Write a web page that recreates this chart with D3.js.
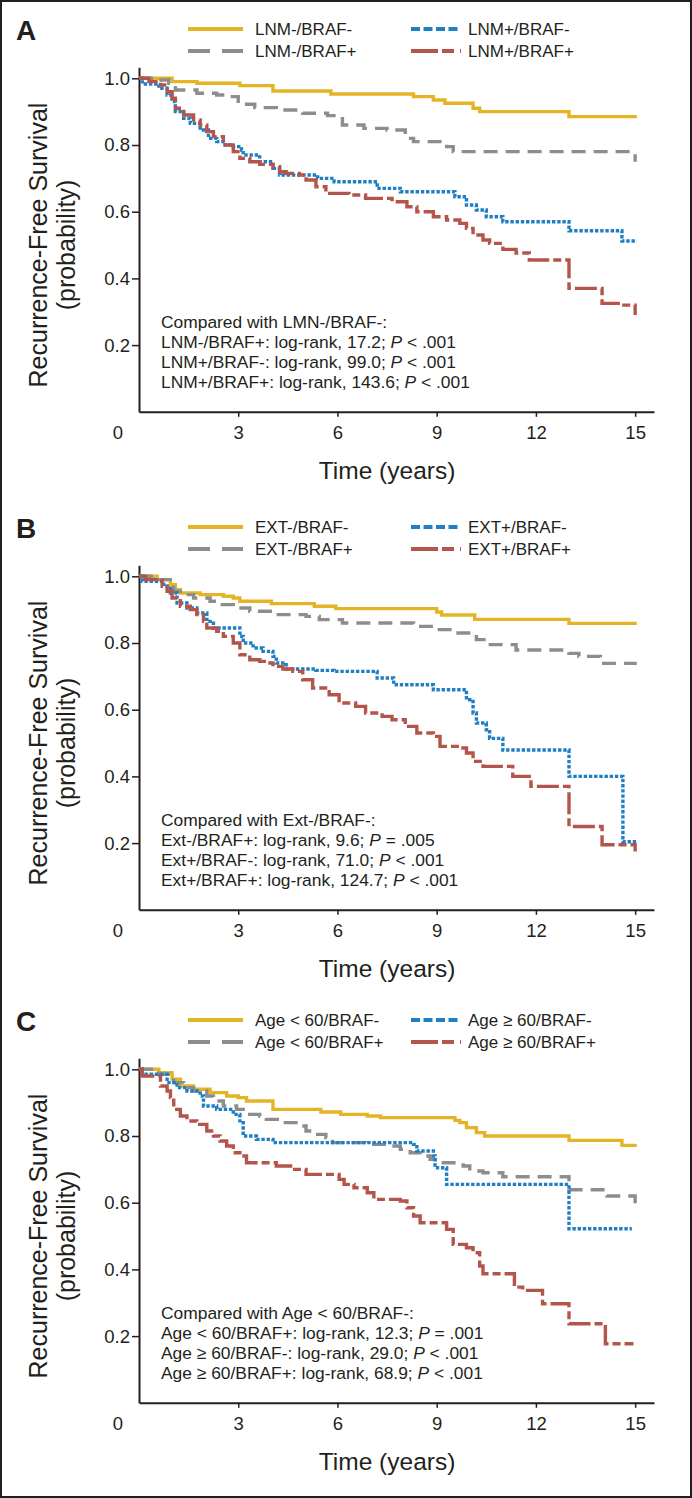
<!DOCTYPE html>
<html>
<head>
<meta charset="utf-8">
<script src="https://cdn.jsdelivr.net/npm/d3@7/dist/d3.min.js"></script>
<style>
  body { margin: 0; background: #fff; }
  svg { display: block; font-family: "Liberation Sans", Arial, Helvetica, sans-serif; }
</style>
</head>
<body>
<div id="chart"></div>
<script>
// ---- Panel A: lymph node metastasis x BRAF ----
const lnmNegBrafNeg = [[0,1],[1.0,0.99],[1.75,0.985],[3.05,0.978],[4.05,0.962],[5.8,0.953],[8.3,0.945],[8.9,0.935],[9.25,0.925],[10.1,0.91],[10.3,0.9],[13.0,0.885],[15.05,0.885]];
const lnmNegBrafPos = [[0,1],[0.55,0.995],[0.9,0.985],[1.1,0.965],[1.75,0.955],[2.35,0.95],[2.65,0.945],[3.0,0.922],[3.5,0.912],[4.15,0.905],[4.95,0.895],[5.7,0.888],[6.15,0.86],[6.8,0.85],[7.5,0.845],[8.05,0.82],[8.3,0.81],[9.3,0.795],[9.5,0.78],[15.0,0.75]];
const lnmPosBrafNeg = [[0,1],[0.1,0.983],[0.6,0.97],[0.85,0.95],[1.0,0.93],[1.1,0.9],[1.35,0.88],[1.55,0.865],[1.85,0.845],[2.1,0.82],[2.35,0.81],[2.6,0.8],[2.85,0.795],[3.1,0.785],[3.15,0.77],[3.65,0.75],[4.05,0.73],[4.25,0.71],[5.4,0.7],[5.9,0.69],[7.2,0.67],[7.9,0.66],[9.55,0.645],[9.9,0.62],[10.2,0.605],[10.5,0.585],[11.0,0.57],[13.0,0.543],[14.6,0.512],[15.05,0.512]];
const lnmPosBrafPos = [[0,1],[0.3,0.99],[0.65,0.98],[0.85,0.96],[1.0,0.94],[1.1,0.91],[1.35,0.89],[1.65,0.875],[1.85,0.86],[2.05,0.84],[2.25,0.825],[2.55,0.8],[2.85,0.78],[3.05,0.76],[3.35,0.75],[3.65,0.742],[4.05,0.735],[4.25,0.72],[4.45,0.715],[4.85,0.71],[5.05,0.695],[5.35,0.675],[5.65,0.655],[6.35,0.65],[6.85,0.64],[7.65,0.63],[8.1,0.615],[8.4,0.6],[8.9,0.585],[9.3,0.575],[9.7,0.565],[9.9,0.55],[10.1,0.53],[10.4,0.515],[10.6,0.505],[11.0,0.487],[11.4,0.476],[11.8,0.455],[13.0,0.37],[14.0,0.325],[14.6,0.32],[15.0,0.29]];
const legendA = ['LNM-/BRAF-', 'LNM-/BRAF+', 'LNM+/BRAF-', 'LNM+/BRAF+'];
const noteHeadA = 'Compared with LMN-/BRAF-:';
const notesA = [['LNM-/BRAF+', '17.2', '<', '.001'], ['LNM+/BRAF-', '99.0', '<', '.001'], ['LNM+/BRAF+', '143.6', '<', '.001']];

// ---- Panel B: extrathyroidal extension x BRAF ----
const extNegBrafNeg = [[0,1],[0.55,0.99],[0.95,0.975],[1.1,0.96],[1.25,0.95],[1.85,0.945],[2.55,0.94],[2.85,0.935],[3.05,0.925],[4.0,0.918],[5.3,0.91],[5.95,0.903],[9.0,0.893],[9.15,0.884],[10.15,0.871],[13.0,0.859],[15.05,0.859]];
const extNegBrafPos = [[0,1],[0.45,0.99],[1.05,0.955],[1.25,0.945],[1.65,0.935],[2.15,0.925],[2.45,0.915],[2.85,0.905],[3.35,0.895],[4.05,0.885],[5.05,0.88],[5.45,0.87],[6.15,0.86],[8.3,0.85],[8.9,0.84],[9.5,0.83],[10.2,0.81],[10.5,0.795],[11.4,0.779],[13.0,0.769],[13.3,0.76],[13.95,0.739],[15.05,0.739]];
const extPosBrafNeg = [[0,1],[0.1,0.985],[0.75,0.97],[0.95,0.95],[1.15,0.92],[1.45,0.905],[1.75,0.89],[2.05,0.865],[2.25,0.845],[3.05,0.82],[3.15,0.8],[3.45,0.785],[3.75,0.775],[4.05,0.76],[4.15,0.74],[4.45,0.722],[5.35,0.718],[5.9,0.715],[7.2,0.695],[7.7,0.675],[8.9,0.66],[9.9,0.63],[10.1,0.59],[10.2,0.56],[10.5,0.54],[10.6,0.514],[11.0,0.479],[13.0,0.4],[14.63,0.204],[15.03,0.204]];
const extPosBrafPos = [[0,1],[0.2,0.99],[0.7,0.97],[0.85,0.955],[1.0,0.935],[1.25,0.91],[1.55,0.9],[1.75,0.885],[1.95,0.865],[2.05,0.845],[2.35,0.835],[2.55,0.82],[2.85,0.8],[3.05,0.765],[3.35,0.75],[3.65,0.745],[3.85,0.74],[4.05,0.73],[4.35,0.722],[4.65,0.715],[4.95,0.69],[5.25,0.665],[5.75,0.645],[6.05,0.62],[6.55,0.61],[6.85,0.59],[7.35,0.58],[7.65,0.57],[8.05,0.55],[8.4,0.53],[8.9,0.52],[9.1,0.49],[9.7,0.485],[9.9,0.47],[10.1,0.445],[10.4,0.43],[11.3,0.4],[11.85,0.37],[13.0,0.25],[14.0,0.195],[15.0,0.175]];
const legendB = ['EXT-/BRAF-', 'EXT-/BRAF+', 'EXT+/BRAF-', 'EXT+/BRAF+'];
const noteHeadB = 'Compared with Ext-/BRAF-:';
const notesB = [['Ext-/BRAF+', '9.6', '=', '.005'], ['Ext+/BRAF-', '71.0', '<', '.001'], ['Ext+/BRAF+', '124.7', '<', '.001']];

// ---- Panel C: age x BRAF ----
const youngBrafNeg = [[0,1],[0.6,0.99],[1.0,0.97],[1.25,0.95],[1.65,0.94],[2.15,0.93],[2.65,0.92],[3.0,0.915],[3.25,0.905],[4.05,0.88],[5.5,0.872],[6.1,0.865],[6.9,0.86],[7.3,0.855],[9.55,0.847],[9.7,0.84],[9.9,0.825],[10.2,0.81],[10.45,0.8],[13.0,0.787],[14.6,0.772],[15.05,0.772]];
const youngBrafPos = [[0,1],[0.6,0.985],[1.05,0.96],[1.35,0.945],[1.65,0.935],[2.05,0.92],[2.25,0.905],[2.55,0.89],[2.95,0.88],[3.15,0.865],[3.65,0.86],[3.85,0.85],[4.35,0.84],[4.85,0.83],[5.05,0.815],[5.35,0.805],[5.65,0.795],[5.85,0.78],[6.85,0.775],[7.5,0.77],[7.9,0.76],[8.2,0.75],[8.5,0.74],[8.8,0.73],[9.2,0.72],[9.8,0.71],[10.0,0.695],[10.4,0.69],[11.0,0.678],[13.0,0.639],[14.15,0.62],[15.0,0.577]];
const oldBrafNeg = [[0,1],[0.1,0.985],[0.85,0.96],[1.15,0.945],[1.45,0.935],[1.85,0.92],[1.95,0.89],[2.35,0.88],[2.85,0.865],[3.05,0.84],[3.15,0.8],[3.55,0.79],[4.05,0.78],[8.3,0.775],[8.4,0.755],[8.9,0.74],[8.95,0.705],[9.3,0.655],[13.0,0.522],[14.9,0.522]];
const oldBrafPos = [[0,1],[0.1,0.98],[0.65,0.95],[0.85,0.935],[0.95,0.915],[1.05,0.88],[1.25,0.86],[1.45,0.845],[1.75,0.835],[2.05,0.815],[2.25,0.8],[2.45,0.785],[2.65,0.77],[2.85,0.75],[3.05,0.74],[3.25,0.72],[4.15,0.71],[4.65,0.7],[5.05,0.685],[6.05,0.67],[6.2,0.655],[6.5,0.645],[6.9,0.63],[7.1,0.61],[7.9,0.605],[8.1,0.585],[8.3,0.56],[8.5,0.54],[9.3,0.52],[9.5,0.475],[9.9,0.465],[10.1,0.45],[10.3,0.41],[10.4,0.387],[11.35,0.347],[11.6,0.337],[12.2,0.297],[13.0,0.237],[14.1,0.177],[14.95,0.177]];
const legendC = ['Age < 60/BRAF-', 'Age < 60/BRAF+', 'Age \u2265 60/BRAF-', 'Age \u2265 60/BRAF+'];
const noteHeadC = 'Compared with Age < 60/BRAF-:';
const notesC = [['Age < 60/BRAF+', '12.3', '=', '.001'], ['Age \u2265 60/BRAF-', '29.0', '<', '.001'], ['Age \u2265 60/BRAF+', '68.9', '<', '.001']];

const xTicks = [3, 6, 9, 12, 15];
const yTicks = [0.2, 0.4, 0.6, 0.8, 1.0];

// styles in series order: -/-, -/+, +/-, +/+
const seriesStyle = [
  { color: '#e5b425', dash: null, legendDash: null },
  { color: '#8d8d8d', dash: '14,8', legendDash: '22,12' },
  { color: '#1f7fc3', dash: '3.4,1.8', legendDash: '9,3.5' },
  { color: '#b4554c', dash: '22,4,8,4', legendDash: '27,4,12,6' }
];

const panels = [
  { letter: 'A', top: 0, series: [lnmNegBrafNeg, lnmNegBrafPos, lnmPosBrafNeg, lnmPosBrafPos], legend: legendA, head: noteHeadA, notes: notesA },
  { letter: 'B', top: 498, series: [extNegBrafNeg, extNegBrafPos, extPosBrafNeg, extPosBrafPos], legend: legendB, head: noteHeadB, notes: notesB },
  { letter: 'C', top: 991, series: [youngBrafNeg, youngBrafPos, oldBrafNeg, oldBrafPos], legend: legendC, head: noteHeadC, notes: notesC }
];

const width = 692, height = 1498;
const ink = '#231f20';

const svg = d3.select('#chart').append('svg')
  .attr('width', width)
  .attr('height', height)
  .attr('viewBox', `0 0 ${width} ${height}`);

svg.append('rect')
  .attr('x', 1).attr('y', 1)
  .attr('width', width - 2).attr('height', height - 2)
  .attr('fill', 'none').attr('stroke', ink).attr('stroke-width', 2);

const xScale = d3.scaleLinear().domain([0, 15.57]).range([139, 654]);
const yScale = d3.scaleLinear().domain([0, 1.033]).range([411.8, 67.3]);

const line = d3.line()
  .x(d => xScale(d[0]))
  .y(d => yScale(d[1]))
  .curve(d3.curveStepAfter);

panels.forEach(p => {
  const g = svg.append('g').attr('transform', `translate(0,${p.top})`);

  // panel letter
  g.append('text')
    .attr('x', 16).attr('y', 40)
    .attr('font-size', 28).attr('font-weight', 'bold').attr('fill', ink)
    .text(p.letter);

  // legend, two columns
  const legendPos = [[188, 29], [188, 51], [411, 29], [411, 51]];
  const legendLen = [55, 55, 50, 50];
  p.legend.forEach((label, i) => {
    const [lx, ly] = legendPos[i];
    const st = seriesStyle[i];
    g.append('line')
      .attr('x1', lx).attr('x2', lx + legendLen[i])
      .attr('y1', ly).attr('y2', ly)
      .attr('stroke', st.color).attr('stroke-width', 4)
      .attr('stroke-dasharray', st.legendDash);
    g.append('text')
      .attr('x', lx + legendLen[i] + (i < 2 ? 12 : 7)).attr('y', ly)
      .attr('dy', '0.35em')
      .attr('font-size', 17).attr('fill', ink)
      .text(label);
  });

  // axes
  const xAxis = g.append('g')
    .attr('transform', `translate(0,${yScale(0)})`)
    .call(d3.axisBottom(xScale).tickValues(xTicks).tickSize(5).tickSizeOuter(0).tickPadding(9));
  const yAxis = g.append('g')
    .attr('transform', `translate(${xScale(0)},0)`)
    .call(d3.axisLeft(yScale).tickValues(yTicks).tickFormat(d3.format('.1f')).tickSize(7).tickSizeOuter(0).tickPadding(2));
  [xAxis, yAxis].forEach(ax => {
    ax.attr('font-family', null).attr('font-size', null);
    ax.select('.domain').attr('stroke', ink).attr('stroke-width', 2);
    ax.selectAll('.tick line').attr('stroke', ink).attr('stroke-width', 1.5);
    ax.selectAll('.tick text').attr('fill', ink).attr('font-size', 18.5);
  });

  // origin label
  g.append('text')
    .attr('x', xScale(0) - 21).attr('y', yScale(0) + 14)
    .attr('dy', '0.71em')
    .attr('text-anchor', 'middle')
    .attr('font-size', 18.5).attr('fill', ink)
    .text('0');

  // axis titles
  g.append('text')
    .attr('x', xScale(7.5)).attr('y', 479)
    .attr('text-anchor', 'middle')
    .attr('font-size', 24.5).attr('fill', ink)
    .text('Time (years)');

  const yMid = yScale(0.5);
  g.append('text')
    .attr('transform', `translate(47,${yMid}) rotate(-90)`)
    .attr('text-anchor', 'middle')
    .attr('font-size', 25).attr('fill', ink)
    .text('Recurrence-Free Survival');
  g.append('text')
    .attr('transform', `translate(75,${yMid}) rotate(-90)`)
    .attr('text-anchor', 'middle')
    .attr('font-size', 25).attr('fill', ink)
    .text('(probability)');

  // curves
  p.series.forEach((data, i) => {
    const st = seriesStyle[i];
    g.append('path')
      .datum(data)
      .attr('d', line)
      .attr('fill', 'none')
      .attr('stroke', st.color)
      .attr('stroke-width', 3.4)
      .attr('stroke-dasharray', st.dash);
  });

  // comparison notes
  const noteX = 161, noteY = 327.5, noteStep = 20;
  g.append('text')
    .attr('x', noteX).attr('y', noteY)
    .attr('font-size', 17.4).attr('fill', ink)
    .text(p.head);
  p.notes.forEach((n, i) => {
    const t = g.append('text')
      .attr('x', noteX).attr('y', noteY + noteStep * (i + 1))
      .attr('font-size', 17.4).attr('fill', ink);
    t.append('tspan').text(`${n[0]}: log-rank, ${n[1]}; `);
    t.append('tspan').attr('font-style', 'italic').text('P');
    t.append('tspan').text(` ${n[2]} ${n[3]}`);
  });
});
</script>
</body>
</html>
